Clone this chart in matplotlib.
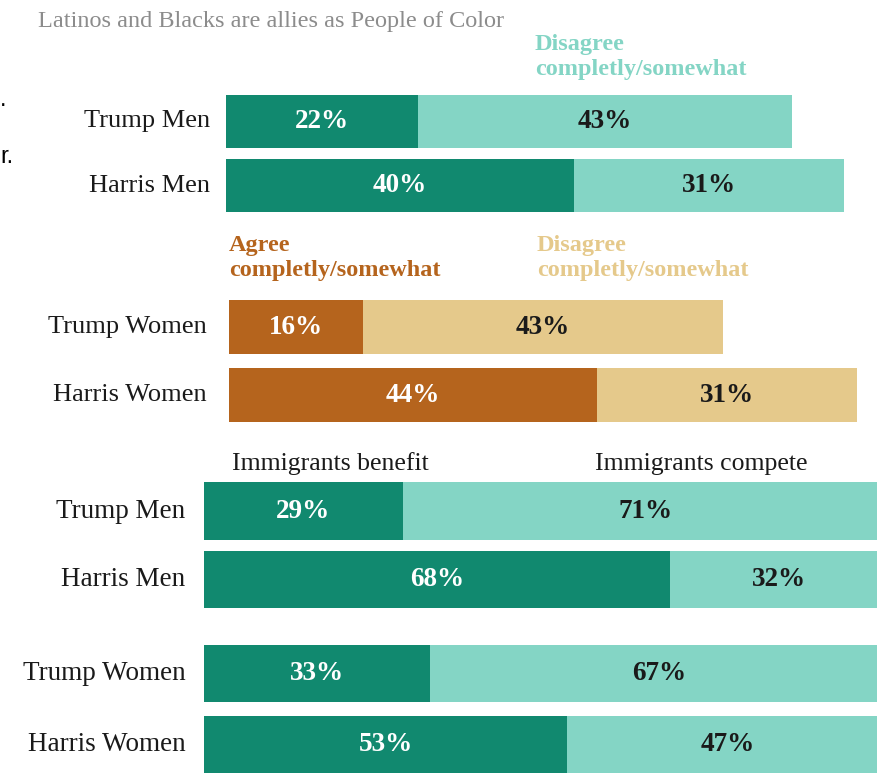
import matplotlib.pyplot as plt
import numpy as np

W, H = 878, 774

# Latinos and Blacks are allies as People of Color
men_groups = ['Trump Men', 'Harris Men']
men_agree = [22, 40]
men_disagree = [43, 31]

women_groups = ['Trump Women', 'Harris Women']
women_agree = [16, 44]
women_disagree = [43, 31]

# Immigrants benefit vs compete
imm_groups = ['Trump Men', 'Harris Men', 'Trump Women', 'Harris Women']
imm_benefit = [29, 68, 33, 53]
imm_compete = [71, 32, 67, 47]

TEAL_DARK = '#11896f'
TEAL_LIGHT = '#84d5c5'
BROWN_DARK = '#b5641d'
BROWN_LIGHT = '#e5c98b'

SERIF = 'Liberation Serif'

fig = plt.figure(figsize=(W / 100, H / 100), dpi=100)


def px_axes(x0, y0, x1, y1):
    # axes placed by pixel box (top-left origin)
    return fig.add_axes([x0 / W, 1 - y1 / H, (x1 - x0) / W, (y1 - y0) / H])


def ftext(x, y, s, **kw):
    fig.text(x / W, 1 - y / H, s, **kw)


def draw_panel(ax, ypos, groups, left, right, c1, c2, height, xmax, ymax,
               label_x, label_size=19):
    ax.barh(ypos, left, height=height, color=c1)
    ax.barh(ypos, right, left=left, height=height, color=c2)
    for y, g, a, b in zip(ypos, groups, left, right):
        ax.text(a / 2, y, f'{a}%', ha='center', va='center', color='white',
                fontsize=19.5, fontweight='bold', family=SERIF)
        ax.text(a + b / 2, y, f'{b}%', ha='center', va='center', color='#1a1a1a',
                fontsize=19.5, fontweight='bold', family=SERIF)
        ax.text(label_x, y, g, ha='right', va='center',
                color='#1a1a1a', fontsize=label_size, family=SERIF,
                transform=ax.get_yaxis_transform())
    ax.set_xlim(0, xmax)
    ax.set_ylim(ymax, -0.5)
    ax.axis('off')


# panel 1: men
ax1 = px_axes(226, 89, 878, 218)
draw_panel(ax1, np.array([0, 1]), men_groups, men_agree, men_disagree,
           TEAL_DARK, TEAL_LIGHT, 0.82, 74.9, 1.5, -0.025)

# panel 2: women
ax2 = px_axes(229, 293, 878, 429)
draw_panel(ax2, np.array([0, 1]), women_groups, women_agree, women_disagree,
           BROWN_DARK, BROWN_LIGHT, 0.79, 77.5, 1.5, -0.035)

# panel 3: immigrants
ax3 = px_axes(204, 477, 878, 774)
draw_panel(ax3, np.array([0, 1, 2.39, 3.43]), imm_groups, imm_benefit, imm_compete,
           TEAL_DARK, TEAL_LIGHT, 0.84, 98.4, 3.86, -0.028, label_size=19.5)

ftext(38, 21, 'Latinos and Blacks are allies as People of Color', color='#8c8c8c',
      fontsize=17.5, family=SERIF, va='center')
ftext(535, 57, 'Disagree\ncompletly/somewhat', color=TEAL_LIGHT, fontsize=17.5,
      fontweight='bold', family=SERIF, va='center', linespacing=1.25)
ftext(229, 258, 'Agree\ncompletly/somewhat', color=BROWN_DARK, fontsize=17.5,
      fontweight='bold', family=SERIF, va='center', linespacing=1.25)
ftext(537, 258, 'Disagree\ncompletly/somewhat', color=BROWN_LIGHT, fontsize=17.5,
      fontweight='bold', family=SERIF, va='center', linespacing=1.25)
ftext(232, 464, 'Immigrants benefit', color='#1a1a1a', fontsize=18.5,
      family=SERIF, va='center')
ftext(595, 464, 'Immigrants compete', color='#1a1a1a', fontsize=18.5,
      family=SERIF, va='center')

# clipped text from the neighbouring column
ftext(0, 100, '.', color='black', fontsize=17, family='Liberation Sans', va='center')
ftext(0, 157, 'r.', color='black', fontsize=17, family='Liberation Sans', va='center')

fig.savefig('out.png', dpi=100, facecolor='white')
